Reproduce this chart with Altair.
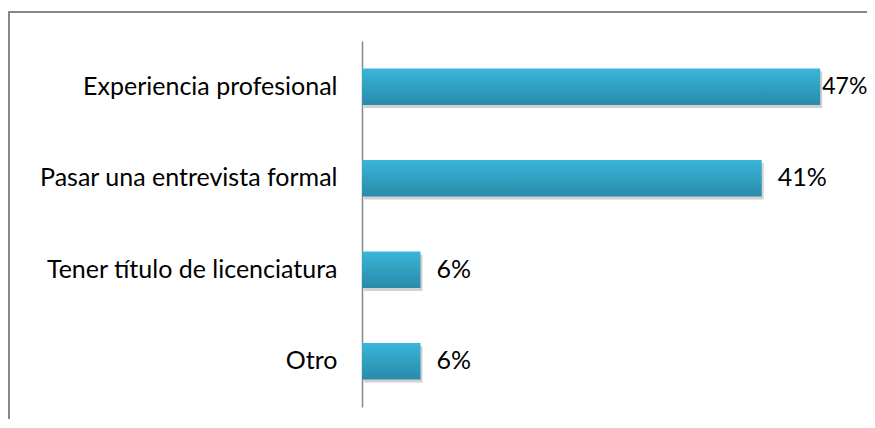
import altair as alt
import pandas as pd

categories = ["Experiencia profesional", "Pasar una entrevista formal",
              "Tener título de licenciatura", "Otro"]
values = [47, 41, 6, 6]
labels = ["47%", "41%", "6%", "6%"]

df = pd.DataFrame({"cat": categories, "val": values, "lab": labels})

FONT = "Lato"
FS = 25

y_enc = alt.Y("cat:N", sort=categories,
              scale=alt.Scale(paddingInner=0.6, paddingOuter=0.3),
              axis=alt.Axis(title=None, ticks=False, domainColor="#868686",
                            domainWidth=1.5, labelFontSize=FS, labelFont=FONT,
                            labelColor="#000000", labelPadding=25,
                            labelLimit=400, grid=False))
x_enc = alt.X("val:Q", scale=alt.Scale(domain=[0, 51.8], nice=False),
              axis=None)

base = alt.Chart(df)
one = pd.DataFrame({"a": [0]})

frame_top = alt.Chart(one).mark_rule(stroke="#888888", strokeWidth=2).encode(
    x=alt.value(-354), x2=alt.value(520), y=alt.value(-29))
frame_left = alt.Chart(one).mark_rule(stroke="#888888", strokeWidth=2).encode(
    x=alt.value(-353), y=alt.value(-30), y2=alt.value(420))

shadow = base.mark_bar(color="#000000", opacity=0.18, yOffset=3, xOffset=2).encode(
    y=y_enc, x=x_enc)

bars = base.mark_bar(
    color=alt.Gradient(gradient="linear",
                       stops=[alt.GradientStop(color="#38b6da", offset=0),
                              alt.GradientStop(color="#2a8aa8", offset=1)],
                       x1=0, x2=0, y1=0, y2=1)
).encode(y=y_enc, x=x_enc)

text_small = base.transform_filter("datum.val < 45").mark_text(
    align="left", baseline="middle", dx=16, fontSize=FS, font=FONT, color="#000000"
).encode(y=y_enc, x=x_enc, text="lab:N")

text_big = base.transform_filter("datum.val >= 45").mark_text(
    align="left", baseline="middle", dx=2, fontSize=23, font=FONT, color="#000000"
).encode(y=y_enc, x=x_enc, text="lab:N")

chart = alt.layer(frame_top, frame_left, shadow, bars, text_small, text_big).properties(
    width=505, height=366,
    autosize=alt.AutoSizeParams(type="none"),
    padding={"left": 354, "top": 33, "right": 0, "bottom": 12},
    background="white"
).configure_view(stroke=None)

chart.save("out.html", embed_options={"renderer": "svg", "actions": False})
